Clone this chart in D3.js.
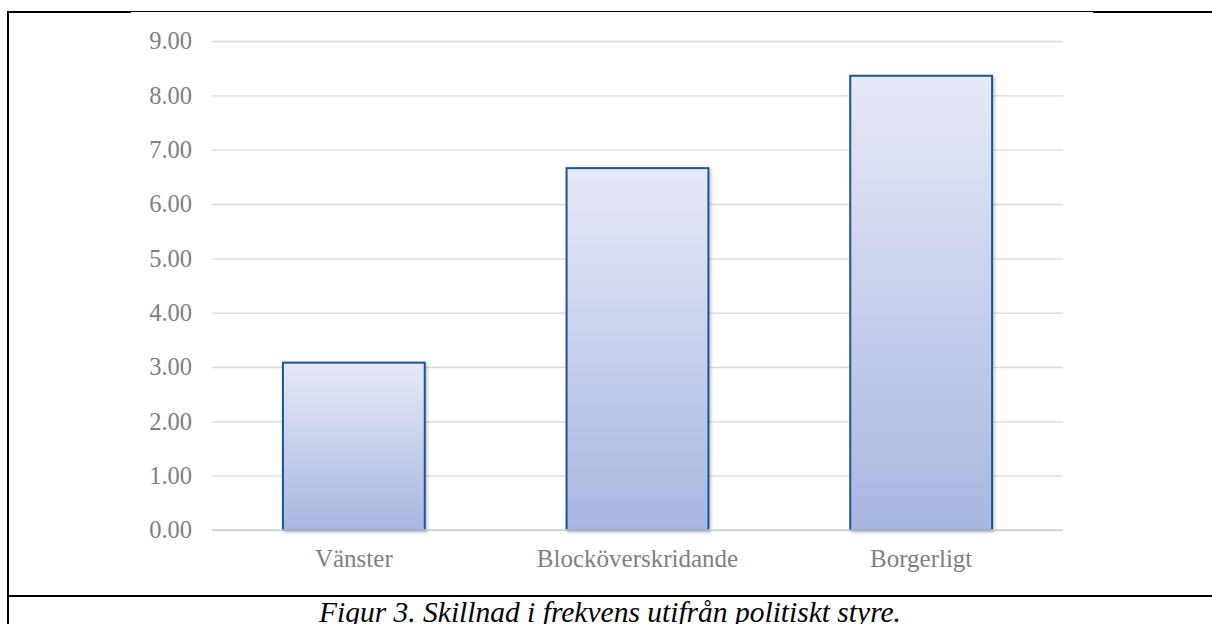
<!DOCTYPE html>
<html><head><meta charset="utf-8">
<script src="https://cdn.jsdelivr.net/npm/d3@7"></script>
<style>html,body{margin:0;padding:0;background:#fff;overflow:hidden}</style>
</head><body>
<svg id="c" width="1212" height="624"></svg>
<script>
const categories = ["Vänster", "Blocköverskridande", "Borgerligt"];
const values = [3.08, 6.66, 8.36];
const yTicks = [0, 1, 2, 3, 4, 5, 6, 7, 8, 9];
const caption = "Figur 3. Skillnad i frekvens utifrån politiskt styre.";

const svg = d3.select("#c");
const font = "'Liberation Serif','Times New Roman',serif";

// page frame
svg.append("line").attr("x1",8).attr("x2",131).attr("y1",12).attr("y2",12).attr("stroke","#000").attr("stroke-width",2);
svg.append("line").attr("x1",131).attr("x2",1093).attr("y1",11.5).attr("y2",11.5).attr("stroke","#000").attr("stroke-width",1);
svg.append("line").attr("x1",1093).attr("x2",1212).attr("y1",12).attr("y2",12).attr("stroke","#000").attr("stroke-width",2);
svg.append("line").attr("x1",8).attr("x2",8).attr("y1",11).attr("y2",624).attr("stroke","#000").attr("stroke-width",2);
svg.append("line").attr("x1",8).attr("x2",1212).attr("y1",596).attr("y2",596).attr("stroke","#000").attr("stroke-width",2);

const x = d3.scaleBand().domain(categories).range([212, 1063]).paddingInner(0.5).paddingOuter(0.25);
const y = d3.scaleLinear().domain([0, 9]).range([530, 41]);

const defs = svg.append("defs");
const grad = defs.append("linearGradient").attr("id","g").attr("x1",0).attr("y1",0).attr("x2",0).attr("y2",1);
grad.append("stop").attr("offset","0%").attr("stop-color","#e6e9f6");
grad.append("stop").attr("offset","100%").attr("stop-color","#a8b7e1");
const f = defs.append("filter").attr("id","sh").attr("x","-10%").attr("y","-10%").attr("width","130%").attr("height","130%");
f.append("feDropShadow").attr("dx",1.5).attr("dy",1.5).attr("stdDeviation",1.5).attr("flood-color","#000").attr("flood-opacity",0.25);

// gridlines
const yAxis = d3.axisLeft(y).tickValues(yTicks).tickFormat(d3.format(".2f")).tickSize(-(1063-212)).tickPadding(20);
const gy = svg.append("g").attr("transform","translate(212,0)").call(yAxis);
gy.select(".domain").remove();
gy.selectAll(".tick line").attr("stroke","#d9d9d9").attr("stroke-width",1.3);
gy.selectAll(".tick text").attr("fill","#7f7f7f").style("font-family",font).style("font-size","24.5px");

// bars
svg.append("g").selectAll("rect").data(values).join("rect")
  .attr("x",(d,i)=>x(categories[i]))
  .attr("width",x.bandwidth())
  .attr("y",d=>y(d))
  .attr("height",d=>y(0)-y(d))
  .attr("fill","url(#g)")
  .attr("stroke","#1f5597")
  .attr("stroke-width",2)
  .attr("filter","url(#sh)");

// baseline
svg.append("line").attr("x1",212).attr("x2",1063).attr("y1",y(0)).attr("y2",y(0)).attr("stroke","#d0d0d0").attr("stroke-width",1.5);

// x axis labels
const xAxis = d3.axisBottom(x).tickSize(0).tickPadding(19);
const gx = svg.append("g").attr("transform",`translate(0,${y(0)})`).call(xAxis);
gx.select(".domain").remove();
gx.selectAll(".tick text").attr("fill","#7f7f7f").style("font-family",font).style("font-size","25px");

svg.append("text").attr("x",610).attr("y",622).attr("text-anchor","middle")
  .style("font-family",font).style("font-size","29.5px").style("font-style","italic").attr("fill","#000")
  .text(caption);
</script>
</body></html>
